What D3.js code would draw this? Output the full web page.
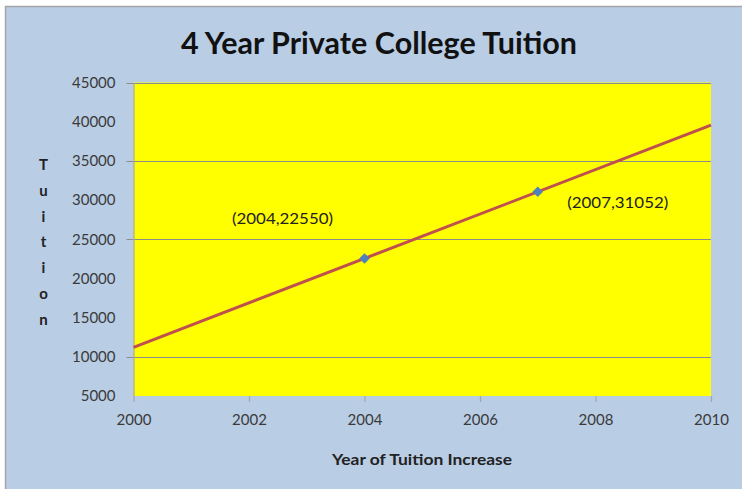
<!DOCTYPE html>
<html>
<head>
<meta charset="utf-8">
<script src="https://cdn.jsdelivr.net/npm/d3@7"></script>
<style>
  html, body { margin: 0; padding: 0; background: #ffffff; }
  svg { display: block; }
  text { font-family: Lato, "Open Sans", sans-serif; }
</style>
</head>
<body>
<svg id="chart" width="742" height="489"></svg>
<script>
// Observed tuition points
const years = [2004, 2007];
const tuition = [22550, 31052];

// Linear trend line drawn across the full year range
const trendYears = [2000, 2010];
const trendTuition = [11214, 39554];

// Axis ticks
const xTicks = [2000, 2002, 2004, 2006, 2008, 2010];
const yTicks = [5000, 10000, 15000, 20000, 25000, 30000, 35000, 40000, 45000];
const gridValues = [10000, 25000, 35000, 45000];

const title = "4 Year Private College Tuition";
const xTitle = "Year of Tuition Increase";
const yTitle = "Tuition";

const svg = d3.select("#chart");

// Chart frame
svg.append("rect")
  .attr("x", 5.5).attr("y", 6.5)
  .attr("width", 742).attr("height", 489)
  .attr("fill", "#B9CDE5")
  .attr("stroke", "#A6A6A6")
  .attr("stroke-width", 1.5);

const plot = { left: 133.5, right: 711, top: 82.5, bottom: 396 };

const x = d3.scaleLinear().domain([2000, 2010]).range([plot.left, plot.right]);
const y = d3.scaleLinear().domain([5000, 45000]).range([plot.bottom, plot.top]);

// Plot area
svg.append("rect")
  .attr("x", plot.left).attr("y", plot.top)
  .attr("width", plot.right - plot.left).attr("height", plot.bottom - plot.top)
  .attr("fill", "#FFFF00");

// Gridlines (extend slightly left of the axis as tick marks)
svg.append("g").selectAll("line")
  .data(gridValues)
  .join("line")
  .attr("x1", plot.left - 7).attr("x2", plot.right)
  .attr("y1", d => Math.round(y(d)) + 0.5).attr("y2", d => Math.round(y(d)) + 0.5)
  .attr("stroke", "#8C8C8C")
  .attr("stroke-width", 1);

// Y axis
const yAxis = svg.append("g")
  .attr("transform", `translate(${plot.left},0)`)
  .call(d3.axisLeft(y).tickValues(yTicks).tickSize(0).tickPadding(18).tickFormat(d3.format("d")));
yAxis.select(".domain").attr("stroke", "#A6A6A6").attr("stroke-width", 1.2);
yAxis.selectAll("text")
  .attr("font-size", 15).attr("fill", "#3a3a3a")
  .attr("font-family", "Lato, sans-serif");

// X axis
const xAxis = svg.append("g")
  .attr("transform", `translate(0,${plot.bottom})`)
  .call(d3.axisBottom(x).tickValues(xTicks).tickSize(6).tickPadding(12).tickFormat(d3.format("d")));
xAxis.select(".domain").remove();
xAxis.selectAll(".tick line").attr("stroke", "#A6A6A6").attr("stroke-width", 1.2);
xAxis.selectAll("text")
  .attr("font-size", 15).attr("fill", "#3a3a3a")
  .attr("font-family", "Lato, sans-serif");

// Trend line
const line = d3.line().x(d => x(d[0])).y(d => y(d[1]));
svg.append("path")
  .datum(trendYears.map((yr, i) => [yr, trendTuition[i]]))
  .attr("d", line)
  .attr("fill", "none")
  .attr("stroke", "#C0504D")
  .attr("stroke-width", 3);

// Data point markers: squares turned 45 degrees
const points = years.map((yr, i) => ({ year: yr, value: tuition[i] }));
svg.append("g").selectAll("path")
  .data(points)
  .join("path")
  .attr("d", d3.symbol().type(d3.symbolSquare).size(56))
  .attr("transform", d => `translate(${x(d.year)},${y(d.value)}) rotate(45)`)
  .attr("fill", "#4F81BD");

// Data labels
const labelOffsets = [[-82, -40], [80, 10]];
svg.append("g").selectAll("text")
  .data(points)
  .join("text")
  .attr("x", (d, i) => x(d.year) + labelOffsets[i][0])
  .attr("y", (d, i) => y(d.value) + labelOffsets[i][1])
  .attr("text-anchor", "middle")
  .attr("dominant-baseline", "central")
  .attr("font-size", 15)
  .attr("fill", "#222222")
  .attr("textLength", 101)
  .attr("lengthAdjust", "spacingAndGlyphs")
  .text(d => `(${d.year},${d.value})`);

// Title
svg.append("text")
  .attr("x", 379).attr("y", 54)
  .attr("text-anchor", "middle")
  .attr("font-size", 30)
  .attr("font-weight", "bold")
  .attr("fill", "#111111")
  .attr("textLength", 396)
  .attr("lengthAdjust", "spacingAndGlyphs")
  .text(title);

// X axis title
svg.append("text")
  .attr("x", 422).attr("y", 465)
  .attr("text-anchor", "middle")
  .attr("font-size", 15)
  .attr("font-weight", "bold")
  .attr("fill", "#222222")
  .attr("textLength", 180)
  .attr("lengthAdjust", "spacingAndGlyphs")
  .text(xTitle);

// Y axis title, letters stacked vertically
svg.append("g").selectAll("text")
  .data(yTitle.split(""))
  .join("text")
  .attr("x", 43.5)
  .attr("y", (d, i) => 170 + i * 25.8)
  .attr("text-anchor", "middle")
  .attr("font-size", 15)
  .attr("font-weight", "bold")
  .attr("fill", "#222222")
  .text(d => d);
</script>
</body>
</html>
